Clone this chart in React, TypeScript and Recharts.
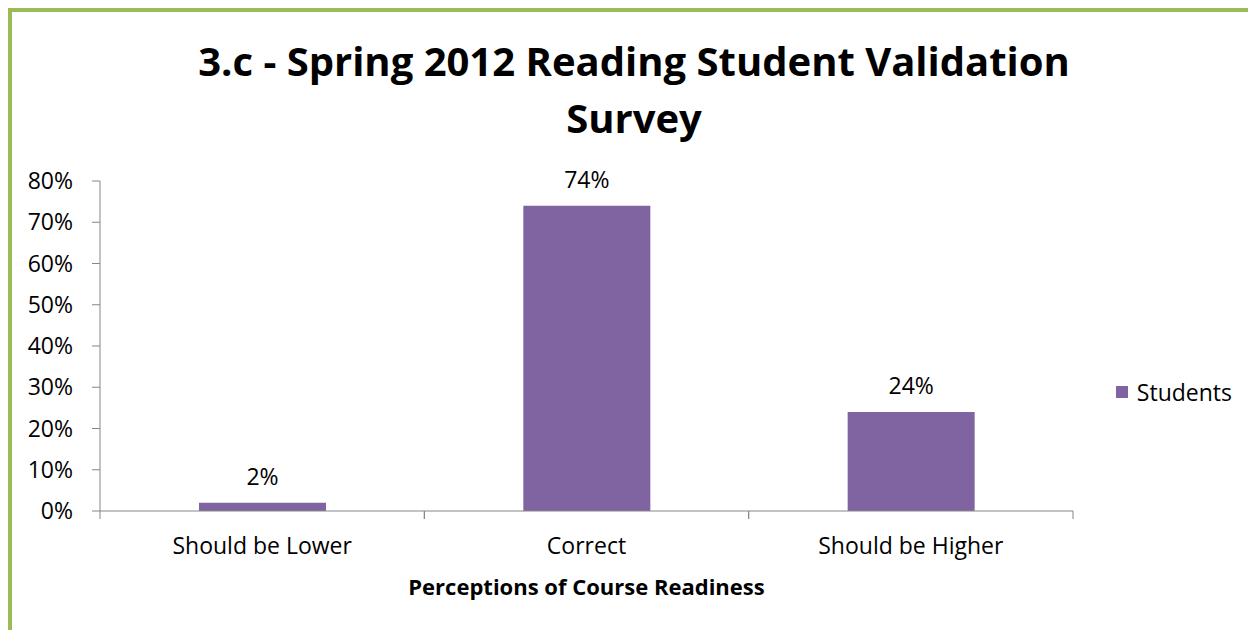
import React from "react";
import { BarChart, Bar, XAxis, YAxis, Legend, LabelList, Label } from "recharts";

const categories = ["Should be Lower", "Correct", "Should be Higher"];
const studentValues = [0.02, 0.74, 0.24];
const yTicks = [0, 0.1, 0.2, 0.3, 0.4, 0.5, 0.6, 0.7, 0.8];
const seriesName = "Students";
const titleLine1 = "3.c - Spring 2012 Reading Student Validation";
const titleLine2 = "Survey";
const xTitle = "Perceptions of Course Readiness";

const data = categories.map((c, i) => ({ name: c, students: studentValues[i] }));

const FONT = "'Open Sans', sans-serif";
const PURPLE = "#8064A2";
const AXIS = "#868686";
const FS = 23;

const pct = (v: number) => `${Math.round(v * 100)}%`;

const LegendContent = () => (
  <div style={{ display: "flex", alignItems: "center", fontFamily: FONT, fontSize: FS, color: "#000" }}>
    <span style={{ display: "inline-block", width: 12, height: 12, background: PURPLE, marginRight: 9 }} />
    <span>{seriesName}</span>
  </div>
);

const CategoryTick = (props: any) => {
  const { x, y, payload } = props;
  const half = payload && typeof payload.offset === "number" ? payload.offset : 0;
  const axisY = y - 27;
  return (
    <g>
      {half > 0 && (
        <>
          <line x1={x - half} x2={x - half} y1={axisY} y2={axisY + 8} stroke={AXIS} />
          <line x1={x + half} x2={x + half} y1={axisY} y2={axisY + 8} stroke={AXIS} />
        </>
      )}
      <text x={x} y={y} dy="0.71em" textAnchor="middle" fill="#000" fontSize={FS} fontFamily={FONT}>
        {payload.value}
      </text>
    </g>
  );
};

export default function App() {
  return (
    <div
      style={{
        position: "relative",
        width: 1244,
        height: 618,
        borderLeft: "4px solid #9BBB59",
        borderTop: "4px solid #9BBB59",
        background: "#fff",
      }}
    >
      <div
        style={{
          position: "absolute",
          left: 0,
          top: 20,
          width: 1244,
          textAlign: "center",
          fontFamily: FONT,
          fontWeight: 700,
          fontSize: 40,
          lineHeight: "57px",
          color: "#000",
        }}
      >
        <div>{titleLine1}</div>
        <div>{titleLine2}</div>
      </div>
      <BarChart
        width={1244}
        height={618}
        data={data}
        margin={{ top: 169, right: 183, bottom: 0, left: 0 }}
        barSize={127}
      >
        <YAxis
          type="number"
          domain={[0, 0.8]}
          ticks={yTicks}
          tickFormatter={pct}
          width={88}
          axisLine={{ stroke: AXIS }}
          tickLine={{ stroke: AXIS }}
          tickSize={8}
          tickMargin={19}
          tick={{ fill: "#000", fontSize: FS, fontFamily: FONT }}
          interval={0}
        />
        <XAxis
          dataKey="name"
          height={119}
          axisLine={{ stroke: AXIS }}
          tickLine={false}
          tickSize={0}
          tickMargin={27}
          tick={<CategoryTick />}
          interval={0}
        >
          <Label
            value={xTitle}
            position="insideBottom"
            offset={35}
            style={{ fill: "#000", fontSize: 22, fontWeight: 700, fontFamily: FONT }}
          />
        </XAxis>
        <Legend
          layout="vertical"
          align="center"
          verticalAlign="middle"
          content={<LegendContent />}
          wrapperStyle={{ position: "absolute", top: 364, right: 24, left: "auto", width: "auto" }}
        />
        <Bar dataKey="students" name={seriesName} fill={PURPLE} isAnimationActive={false}>
          <LabelList
            dataKey="students"
            position="top"
            offset={18}
            formatter={(v: number) => pct(v)}
            style={{ fill: "#000", fontSize: FS, fontFamily: FONT }}
          />
        </Bar>
      </BarChart>
    </div>
  );
}
